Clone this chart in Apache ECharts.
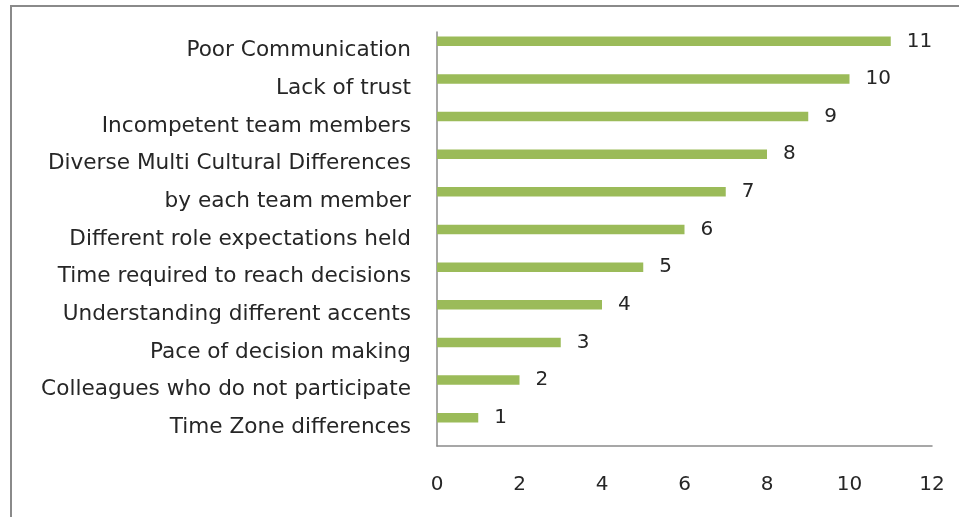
<!DOCTYPE html>
<html>
<head>
<meta charset="utf-8">
<script src="https://cdn.jsdelivr.net/npm/echarts@6/dist/echarts.min.js"></script>
<style>
html,body{margin:0;padding:0;background:#fff;}
#chart{width:959px;height:517px;}
</style>
</head>
<body>
<div id="chart"></div>
<script>
const categories = [
  "Poor Communication",
  "Lack of trust",
  "Incompetent team members",
  "Diverse Multi Cultural Differences",
  "by each team member",
  "Different role expectations held",
  "Time required to reach decisions",
  "Understanding different accents",
  "Pace of decision making",
  "Colleagues who do not participate",
  "Time Zone differences"
];
const values = [11, 10, 9, 8, 7, 6, 5, 4, 3, 2, 1];
const emptySeries = categories.map(() => '-');
const xTicks = { min: 0, max: 12, interval: 2 };

const chart = echarts.init(document.getElementById('chart'), null, {renderer: 'canvas'});
const font = '"DejaVu Sans", "Open Sans", sans-serif';
chart.setOption({
  animation: false,
  backgroundColor: '#ffffff',
  graphic: [{
    type: 'rect',
    shape: { x: 11, y: 6, width: 1000, height: 600 },
    style: { fill: 'none', stroke: '#8a8a8a', lineWidth: 2 },
    silent: true
  }],
  grid: { left: 437, right: 27, top: 32, bottom: 71, containLabel: false },
  xAxis: {
    type: 'value',
    min: xTicks.min, max: xTicks.max, interval: xTicks.interval,
    axisLine: { show: true, lineStyle: { color: '#8a8a8a', width: 1.5 } },
    axisTick: { show: false },
    splitLine: { show: false },
    axisLabel: { margin: 29, fontSize: 20, color: '#262626', fontFamily: font }
  },
  yAxis: {
    type: 'category',
    data: categories,
    inverse: true,
    axisLine: { show: true, lineStyle: { color: '#8a8a8a', width: 1.5 } },
    axisTick: { show: false },
    axisLabel: { margin: 26, fontSize: 21.6, color: '#262626', fontFamily: font }
  },
  series: [{
    type: 'bar',
    data: values,
    barWidth: 9.5,
    barGap: '100%',
    itemStyle: { color: '#9bbb59' },
    label: {
      show: true, position: 'right', distance: 16,
      fontSize: 20, color: '#262626', fontFamily: font
    }
  }, {
    type: 'bar',
    data: emptySeries,
    barWidth: 9.5,
    barGap: '100%',
    itemStyle: { color: '#4f81bd' }
  }]
});
</script>
</body>
</html>
